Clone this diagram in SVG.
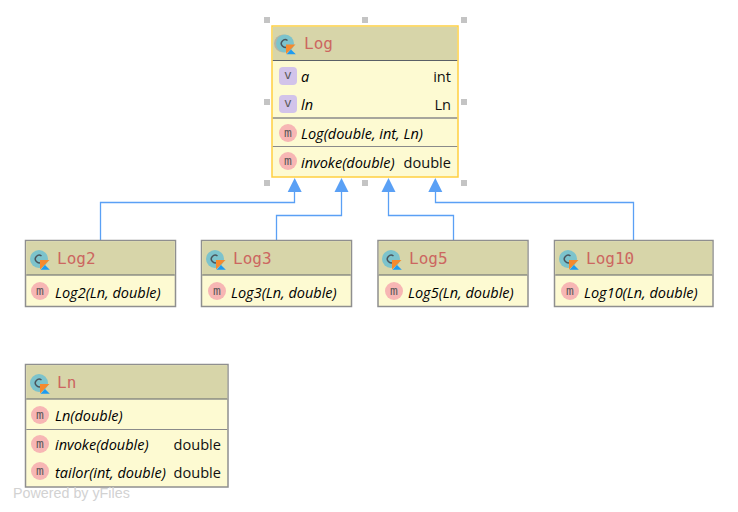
<svg xmlns="http://www.w3.org/2000/svg" width="738" height="512" viewBox="0 0 738 512">
<style>
.box{fill:#fdfad2;stroke:#8f8f8f;stroke-width:1.5}
.sel{fill:#fdfad2;stroke:#ffcf40;stroke-width:1.5}
.hdr{fill:#d7d5a9}
.hl{stroke:#5a5f66;stroke-width:1.2;fill:none}
.sl{stroke:#8a8a8a;stroke-width:1;fill:none}
.title{font:16px "DejaVu Sans Mono","Liberation Mono",monospace;fill:#cc6660}
.m{font:italic 14.5px "Open Sans","Noto Sans",sans-serif;fill:#000}
.t{font:14.6px "Open Sans","Noto Sans",sans-serif;fill:#111;text-anchor:end}
.g{font:13px "DejaVu Sans Mono",monospace;fill:#5d5a5a;text-anchor:middle}
.edge{fill:none;stroke:#5aa0f5;stroke-width:1.3}
.arrow{fill:#5aa0f5}
.h{fill:#c4c4c4}
</style>
<defs>
<path id="tri" d="M-7,14 L0,0 L7,14 Z"/>
<g id="ci">
<circle cx="0" cy="0" r="9" fill="#7cc3cc"/>
<path d="M2.500,-3 A3.800,3.800 0 1 0 2.500,3" fill="none" stroke="#4a555c" stroke-width="1.500"/>
<path d="M1,1 H10.500 L1,10.500 Z" fill="#f58a2e"/>
<path d="M1.500,10.800 L6,6 L10.800,10.800 Z" fill="#1e9bf0"/>
</g>
<g id="mi"><circle r="9" fill="#f7b6b4"/><text class="g" y="4">m</text></g>
<g id="vi"><rect x="-9" y="-9" width="18" height="18" rx="4" fill="#d2c3ea"/><text class="g" y="3">v</text></g>
</defs>
<g id="selection-handles">
<rect class="h" x="264" y="17" width="6" height="6"/><rect class="h" x="362" y="17" width="6" height="6"/><rect class="h" x="461" y="17" width="6" height="6"/>
<rect class="h" x="264" y="99" width="6" height="6"/><rect class="h" x="461" y="99" width="6" height="6"/>
<rect class="h" x="264" y="180" width="6" height="6"/><rect class="h" x="362" y="180" width="6" height="6"/><rect class="h" x="461" y="180" width="6" height="6"/>
</g>
<g id="connectors">
<path class="edge" d="M100.500,240 V202.500 H294.500 V190"/><use href="#tri" class="arrow" x="294.700" y="178"/>
<path class="edge" d="M276.500,240 V215.500 H341.500 V190"/><use href="#tri" class="arrow" x="341.500" y="178"/>
<path class="edge" d="M453.500,240 V215.500 H388.500 V190"/><use href="#tri" class="arrow" x="388.500" y="178"/>
<path class="edge" d="M633.500,240 V202.500 H435.500 V190"/><use href="#tri" class="arrow" x="435.300" y="178"/>
</g>
<g id="Log">
<rect class="sel" x="272" y="26" width="186" height="151"/>
<rect class="hdr" x="272.800" y="26.800" width="184.400" height="33.500"/>
<path class="hl" d="M272.800,60.500 H457.200"/>
<circle cx="283" cy="43.500" r="9" fill="#b5b5a5"/>
<use href="#ci" x="285" y="43.500"/>
<text class="title" x="304" y="49">Log</text>
<use href="#vi" x="288" y="76"/><text class="m" x="301" y="82">a</text><text class="t" x="451" y="82">int</text>
<use href="#vi" x="288" y="104"/><text class="m" x="301" y="110">ln</text><text class="t" x="451" y="110">Ln</text>
<path class="sl" style="stroke-width:1.5" d="M272.800,118 H457.200"/>
<use href="#mi" x="288" y="133"/><text class="m" x="301" y="139">Log(double, int, Ln)</text>
<path class="sl" d="M272.800,146.500 H457.200"/>
<use href="#mi" x="288" y="161"/><text class="m" x="301" y="168">invoke(double)</text><text class="t" x="451" y="168">double</text>
</g>
<g id="Log2">
<rect class="box" x="25.500" y="240.500" width="150" height="66"/>
<rect class="hdr" x="26.300" y="241.300" width="148.400" height="33.500"/>
<path class="hl" d="M26.300,275 H174.700"/>
<use href="#ci" x="39" y="259"/>
<text class="title" x="57" y="264">Log2</text>
<use href="#mi" x="40" y="291"/><text class="m" x="55" y="298">Log2(Ln, double)</text>
</g>
<g id="Log3">
<rect class="box" x="201.500" y="240.500" width="150" height="66"/>
<rect class="hdr" x="202.300" y="241.300" width="148.400" height="33.500"/>
<path class="hl" d="M202.300,275 H350.700"/>
<use href="#ci" x="215" y="259"/>
<text class="title" x="233" y="264">Log3</text>
<use href="#mi" x="217" y="291"/><text class="m" x="231" y="298">Log3(Ln, double)</text>
</g>
<g id="Log5">
<rect class="box" x="378" y="240.500" width="150" height="66"/>
<rect class="hdr" x="378.800" y="241.300" width="148.400" height="33.500"/>
<path class="hl" d="M378.800,275 H527.200"/>
<use href="#ci" x="391" y="259"/>
<text class="title" x="409" y="264">Log5</text>
<use href="#mi" x="394" y="291"/><text class="m" x="408" y="298">Log5(Ln, double)</text>
</g>
<g id="Log10">
<rect class="box" x="554.500" y="240.500" width="158.500" height="66"/>
<rect class="hdr" x="555.300" y="241.300" width="156.900" height="33.500"/>
<path class="hl" d="M555.300,275 H712.200"/>
<use href="#ci" x="568" y="259"/>
<text class="title" x="586" y="264">Log10</text>
<use href="#mi" x="570" y="291"/><text class="m" x="584" y="298">Log10(Ln, double)</text>
</g>
<g id="Ln">
<rect class="box" x="25.500" y="364.500" width="202.500" height="122.500"/>
<rect class="hdr" x="26.300" y="365.300" width="200.900" height="33.500"/>
<path class="hl" d="M26.300,399 H227.200"/>
<use href="#ci" x="39" y="383"/>
<text class="title" x="57" y="388">Ln</text>
<use href="#mi" x="40" y="415"/><text class="m" x="55" y="421">Ln(double)</text>
<path class="sl" d="M26.300,429.500 H227.200"/>
<use href="#mi" x="40" y="444"/><text class="m" x="55" y="450">invoke(double)</text><text class="t" x="221" y="450">double</text>
<use href="#mi" x="40" y="471"/><text class="m" x="55" y="478">tailor(int, double)</text><text class="t" x="221" y="478">double</text>
</g>
<text x="13" y="498" font-family="Liberation Sans, Arial, sans-serif" font-size="14.300" fill="#d2d2d2">Powered by yFiles</text>
</svg>
